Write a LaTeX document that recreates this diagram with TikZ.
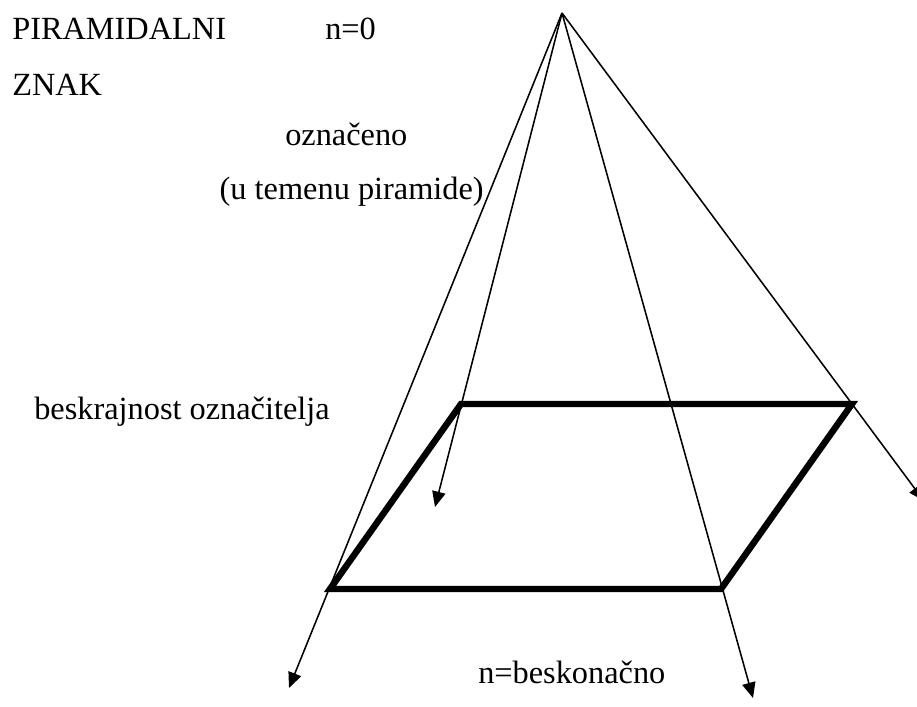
\documentclass[tikz,border=0pt]{standalone}
\usepackage{fontspec}
\setmainfont{Liberation Serif}
\usetikzlibrary{arrows.meta, positioning}

\begin{document}
\begin{tikzpicture}[
  x=0.025cm, y=-0.025cm,
  lbl/.style={font=\fontsize{23}{27}\selectfont, inner sep=0pt, anchor=base west},
  ray/.style={line width=1.1pt, -{Triangle[length=11pt, width=9.5pt]}},
  base/.style={line width=4.6pt, line join=miter}
]
  \useasboundingbox (0,0) rectangle (917,707);

  % labels
  \node[lbl] (title) at (12,40) {PIRAMIDALNI};
  \node[lbl] (nzero) at (325,40) {n=0};
  \node[lbl] (sign) at (12,96) {ZNAK};
  \node[lbl] (signified) at (285,146) {označeno};
  \node[lbl, anchor=base east] (apexnote) at (484,200) {(u temenu piramide)};
  \node[lbl] (infinity) at (34,420) {beskrajnost označitelja};
  \node[lbl] (ninf) at (478,684) {n=beskonačno};

  % pyramid
  \coordinate (apex) at (562,13);
  \coordinate (bl) at (330,589);
  \coordinate (br) at (721,589);
  \coordinate (tr) at (852,404);
  \coordinate (tl) at (461,404);
  \coordinate (endA) at (289,688);
  \coordinate (endB) at (435,507);
  \coordinate (endC) at (753,698);
  \coordinate (endD) at (924,501);

  \draw[base] (bl) -- (tl) -- (tr) -- (br) -- cycle;

  \draw[ray] (apex) -- (endA);
  \draw[ray] (apex) -- (endB);
  \draw[ray] (apex) -- (endC);
  \draw[ray] (apex) -- (endD);
\end{tikzpicture}
\end{document}
